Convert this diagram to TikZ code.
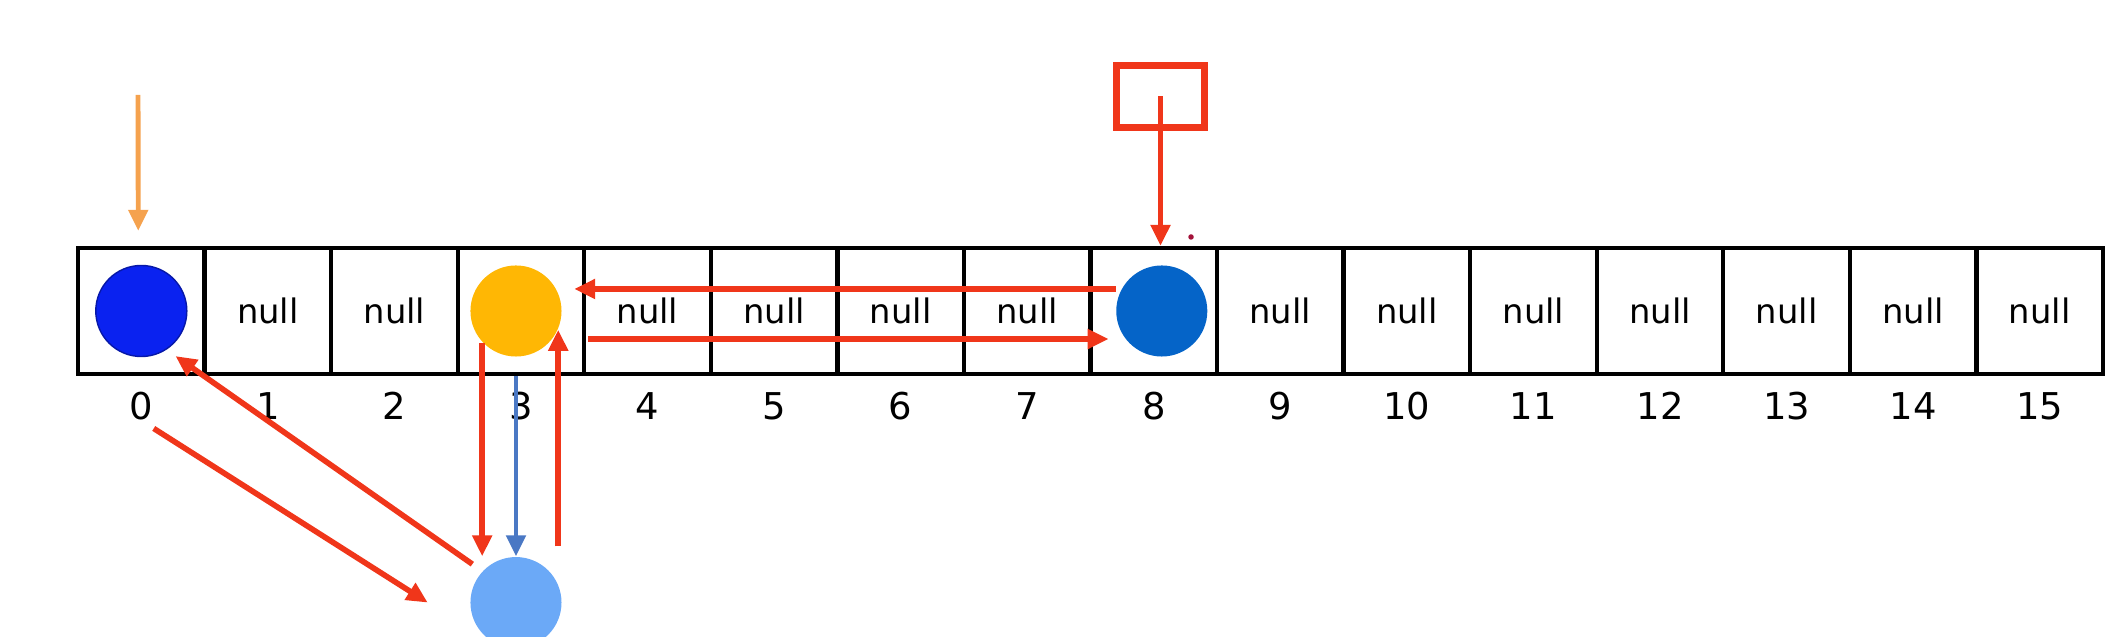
\documentclass[tikz,border=0pt]{standalone}
\usepackage{fontspec}
\setmainfont{DejaVu Sans}
\usetikzlibrary{positioning, arrows.meta}
\definecolor{hotred}{HTML}{F0361A}
\definecolor{pale}{HTML}{F5A24E}
\definecolor{deepblue}{HTML}{0A22F0}
\definecolor{amber}{HTML}{FFB704}
\definecolor{cobalt}{HTML}{0564C8}
\definecolor{skyblue}{HTML}{6BA9F7}
\definecolor{steel}{HTML}{4A78C4}
\definecolor{speckred}{HTML}{A3123A}

\begin{document}
\begin{tikzpicture}[x=0.01cm, y=0.01cm, >={Triangle[length=0.21cm,width=0.19cm]},
  cell/.style={draw, line width=1.2pt, minimum width=1.2656cm, minimum height=1.26cm, inner sep=0pt},
  entry/.style={font=\fontsize{9.6}{11}\selectfont, inner sep=0pt},
  idx/.style={font=\fontsize{10.5}{12}\selectfont, inner sep=0pt, text height=7.65pt, text depth=0pt},
  ball/.style={circle, minimum size=0.91cm, inner sep=0pt},
  link/.style={->, hotred, line width=1.6pt}]
  \clip (0,0) rectangle (2119,637);
  \foreach \i in {0,...,15} {
    \node[cell] (c\i) at ({141.3+126.56*\i},326) {};
    \node[idx, below=0.16cm of c\i] (i\i) {\i};
  }
  \foreach \i in {1,2,4,5,6,7,9,10,11,12,13,14,15}
    \node[entry] (n\i) at (c\i) {null};
  \node[ball, fill=deepblue, draw=deepblue!70!black, line width=0.4pt] (first) at (c0) {};
  \node[ball, fill=amber] (mid) at ([xshift=-0.05cm]c3.center) {};
  \node[ball, fill=cobalt] (moved) at ([xshift=0.08cm]c8.center) {};
  \node[ball, fill=skyblue, below=1.99cm of mid] (fresh) {};
  \node[draw=hotred, line width=2.1pt, minimum width=0.88cm, minimum height=0.62cm] (ptr) at (1160.5,540.5) {};
  \node[circle, fill=speckred, inner sep=0pt, minimum size=0.055cm] (speck) at (1191,400) {};
  \coordinate (drop) at (138,542);
  \coordinate (rise) at ([yshift=0.1cm]fresh.north);
  \draw[->, pale, line width=1.4pt] (drop) -- ([xshift=-0.03cm,yshift=0.15cm]c0.north);
  \draw[link] (ptr.center) -- (ptr.center |- c8.north);
  \draw[link] ([yshift=0.22cm]moved.west) -- ([xshift=0.12cm,yshift=0.22cm]mid.east);
  \draw[link] ([xshift=0.26cm,yshift=-0.28cm]mid.east) -- ([xshift=-0.07cm,yshift=-0.28cm]moved.west);
  \draw[link] (mid.223) -- (mid.223 |- fresh.north);
  \draw[->, steel, line width=1.4pt] (mid.south |- c3.south) -- (fresh.north);
  \draw[link] (mid.-24 |- rise) -- (mid.-24);
  \draw[link, shorten <=0.12cm, shorten >=0.11cm] (fresh.137) -- (first.-57);
  \draw[link] ([yshift=-0.08cm]i0.south east) -- ([xshift=-0.42cm]fresh.west);
\end{tikzpicture}
\end{document}
